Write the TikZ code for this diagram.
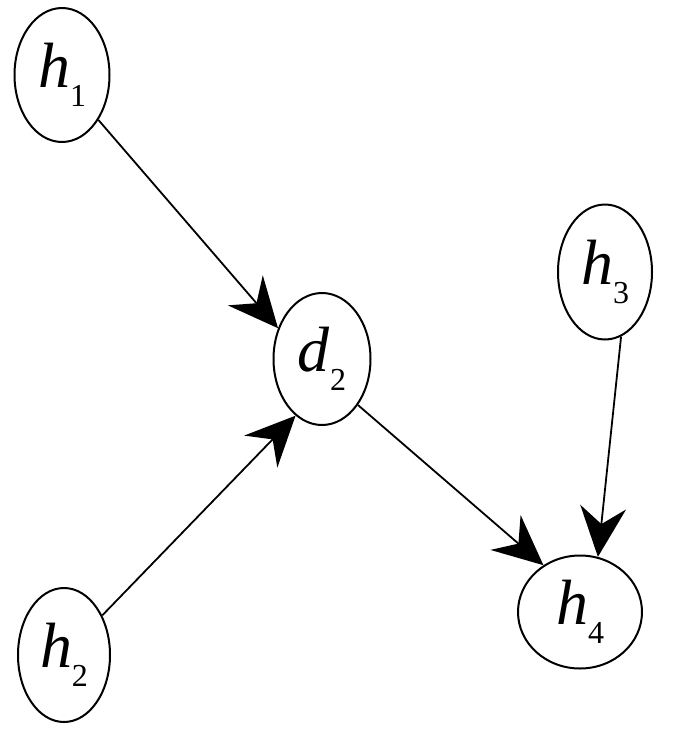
\documentclass[tikz,border=0pt]{standalone}
\usepackage{fontspec}
\setmainfont{Liberation Serif}
\usetikzlibrary{shapes.geometric,arrows.meta}
\newcommand{\lbl}[2]{\fontsize{64}{64}\selectfont\textit{#1}\raisebox{-0.3em}{\fontsize{32}{32}\selectfont #2}}
\begin{document}
\begin{tikzpicture}[x=1pt,y=-1pt,
  vnode/.style={draw,line width=2pt,ellipse,inner sep=0pt,black},
  link/.style={line width=1.8pt,-{Stealth[length=50pt,width=46pt,inset=17pt]}}]
\useasboundingbox (0,0) rectangle (700,734);
\fill[white] (0,0) rectangle (700,734);
\node[vnode,minimum width=95pt,minimum height=134pt] (h1) at (62,75) {\lbl{h}{1}};
\node[vnode,minimum width=97pt,minimum height=132pt] (d2) at (322,359) {\lbl{d}{2}};
\node[vnode,minimum width=94pt,minimum height=135pt] (h3) at (605,272) {\lbl{h}{3}};
\node[vnode,minimum width=92pt,minimum height=134pt] (h2) at (64,655) {\lbl{h}{2}};
\node[vnode,minimum width=124pt,minimum height=113pt] (h4) at (580,612) {\lbl{h}{4}};
\draw[link] (h1.-51) -- (d2.145);
\draw[link] (h2.46) -- (d2.-115);
\draw[link] (d2.-52) -- (h4.128);
\draw[link] (h3.-76) -- (h4.72);
\end{tikzpicture}
\end{document}
